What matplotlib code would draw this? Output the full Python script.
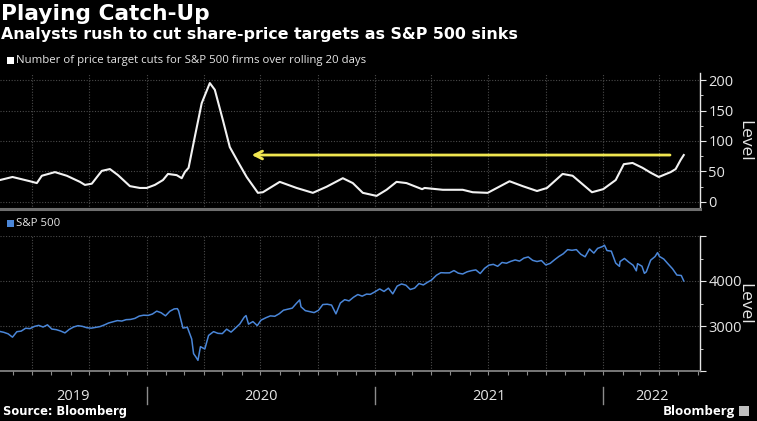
import matplotlib

matplotlib.use("Agg")

import matplotlib.pyplot as plt
import matplotlib.dates as mdates
import matplotlib.transforms as mtransforms
from matplotlib.patches import Rectangle
from matplotlib.ticker import MultipleLocator, FixedLocator
import pandas as pd

# Rolling 20-day count of price-target cuts
CUT_DATES = [
    "2019-05-11", "2019-05-31", "2019-06-28", "2019-07-09", "2019-07-17", "2019-08-07",
    "2019-08-26", "2019-09-16", "2019-09-24", "2019-10-05", "2019-10-21", "2019-11-03",
    "2019-11-16", "2019-12-05", "2019-12-21", "2020-01-01", "2020-01-14", "2020-01-27",
    "2020-02-04", "2020-02-18", "2020-02-26", "2020-03-02", "2020-03-08", "2020-03-18",
    "2020-03-29", "2020-04-11", "2020-04-19", "2020-05-02", "2020-05-13", "2020-05-26",
    "2020-06-09", "2020-06-27", "2020-07-05", "2020-08-01", "2020-08-28", "2020-09-23",
    "2020-10-15", "2020-11-10", "2020-11-26", "2020-12-12", "2021-01-03", "2021-01-19",
    "2021-02-04", "2021-02-20", "2021-03-17", "2021-03-21", "2021-04-19", "2021-05-21",
    "2021-06-06", "2021-06-30", "2021-08-04", "2021-08-25", "2021-09-17", "2021-10-03",
    "2021-10-28", "2021-11-13", "2021-12-14", "2022-01-01", "2022-01-21", "2022-02-03",
    "2022-02-17", "2022-03-05", "2022-03-18", "2022-03-31", "2022-04-19", "2022-04-27",
    "2022-05-05", "2022-05-10",
]
CUT_VALUES = [
    36, 41, 34, 31, 43, 49,
    43, 33, 28, 30, 51, 54,
    44, 26, 23, 23, 28, 36,
    46, 44, 39, 49, 56, 107,
    162, 195, 184, 134, 90, 66,
    41, 15, 16, 33, 23, 15,
    25, 39, 31, 15, 10, 20,
    33, 31, 21, 23, 20, 20,
    16, 15, 34, 26, 18, 23,
    46, 43, 16, 21, 36, 62,
    64, 56, 48, 41, 49, 54,
    69, 77,
]

# S&P 500 level, roughly weekly
SPX_DATES = [
    "2019-05-10", "2019-05-17", "2019-05-24", "2019-05-31", "2019-06-07", "2019-06-14",
    "2019-06-21", "2019-06-28", "2019-07-05", "2019-07-12", "2019-07-19", "2019-07-26",
    "2019-08-02", "2019-08-09", "2019-08-16", "2019-08-23", "2019-08-30", "2019-09-06",
    "2019-09-13", "2019-09-20", "2019-09-27", "2019-10-04", "2019-10-11", "2019-10-18",
    "2019-10-25", "2019-11-01", "2019-11-08", "2019-11-15", "2019-11-22", "2019-11-29",
    "2019-12-06", "2019-12-13", "2019-12-20", "2019-12-27",
    "2020-01-03", "2020-01-10", "2020-01-17", "2020-01-24", "2020-01-31", "2020-02-07",
    "2020-02-14", "2020-02-19", "2020-02-21", "2020-02-28", "2020-03-06", "2020-03-13",
    "2020-03-16", "2020-03-20", "2020-03-23", "2020-03-27", "2020-04-03", "2020-04-09",
    "2020-04-17", "2020-04-24", "2020-05-01", "2020-05-08", "2020-05-15", "2020-05-22",
    "2020-05-29", "2020-06-05", "2020-06-08", "2020-06-12", "2020-06-19", "2020-06-26",
    "2020-07-02", "2020-07-10", "2020-07-17", "2020-07-24", "2020-07-31", "2020-08-07",
    "2020-08-14", "2020-08-21", "2020-08-28", "2020-09-02", "2020-09-04", "2020-09-11",
    "2020-09-18", "2020-09-25", "2020-10-02", "2020-10-09", "2020-10-16", "2020-10-23",
    "2020-10-30", "2020-11-06", "2020-11-13", "2020-11-20", "2020-11-27", "2020-12-04",
    "2020-12-11", "2020-12-18", "2020-12-24", "2020-12-31",
    "2021-01-08", "2021-01-15", "2021-01-22", "2021-01-29", "2021-02-05", "2021-02-12",
    "2021-02-19", "2021-02-26", "2021-03-05", "2021-03-12", "2021-03-19", "2021-03-26",
    "2021-04-01", "2021-04-09", "2021-04-16", "2021-04-23", "2021-04-30", "2021-05-07",
    "2021-05-14", "2021-05-21", "2021-05-28", "2021-06-04", "2021-06-11", "2021-06-18",
    "2021-06-25", "2021-07-02", "2021-07-09", "2021-07-16", "2021-07-23", "2021-07-30",
    "2021-08-06", "2021-08-13", "2021-08-20", "2021-08-27", "2021-09-03", "2021-09-10",
    "2021-09-17", "2021-09-24", "2021-10-01", "2021-10-08", "2021-10-15", "2021-10-22",
    "2021-10-29", "2021-11-05", "2021-11-12", "2021-11-19", "2021-11-26", "2021-12-03",
    "2021-12-10", "2021-12-17", "2021-12-23", "2021-12-31",
    "2022-01-03", "2022-01-07", "2022-01-14", "2022-01-21", "2022-01-27", "2022-01-28",
    "2022-02-04", "2022-02-11", "2022-02-18", "2022-02-23", "2022-02-25", "2022-03-04",
    "2022-03-08", "2022-03-11", "2022-03-18", "2022-03-25", "2022-03-29", "2022-04-01",
    "2022-04-08", "2022-04-14", "2022-04-22", "2022-04-29", "2022-05-06", "2022-05-10",
]
SPX_VALUES = [
    2881, 2860, 2826, 2752, 2873, 2887,
    2950, 2942, 2990, 3014, 2977, 3026,
    2932, 2919, 2889, 2847, 2926, 2979,
    3007, 2992, 2962, 2952, 2970, 2986,
    3023, 3067, 3093, 3120, 3110, 3141,
    3146, 3169, 3221, 3240,
    3235, 3265, 3330, 3295, 3226, 3328,
    3380, 3386, 3338, 2954, 2972, 2711,
    2386, 2305, 2237, 2541, 2489, 2790,
    2875, 2837, 2831, 2930, 2864, 2955,
    3044, 3194, 3232, 3041, 3098, 3009,
    3130, 3185, 3225, 3216, 3271, 3351,
    3373, 3397, 3508, 3580, 3427, 3341,
    3319, 3298, 3348, 3477, 3484, 3465,
    3270, 3510, 3585, 3558, 3638, 3699,
    3663, 3709, 3703, 3756,
    3824, 3768, 3841, 3714, 3887, 3934,
    3907, 3811, 3842, 3943, 3913, 3975,
    4020, 4129, 4185, 4180, 4181, 4232,
    4174, 4156, 4204, 4230, 4247, 4166,
    4281, 4352, 4370, 4327, 4412, 4395,
    4437, 4468, 4442, 4509, 4535, 4459,
    4433, 4455, 4357, 4391, 4471, 4545,
    4605, 4697, 4682, 4698, 4595, 4538,
    4712, 4620, 4725, 4766,
    4796, 4677, 4663, 4398, 4326, 4432,
    4501, 4419, 4349, 4226, 4385, 4329,
    4170, 4204, 4463, 4543, 4631, 4546,
    4488, 4393, 4272, 4132, 4123, 4001,
]

YEARS = [2019, 2020, 2021, 2022]

W, H = 757, 421
BG = "black"
GRID = "#4a4a4a"
WHITE_LINE = "#f2f2f2"
BLUE = "#4a86d8"
YELLOW = "#f0e650"
AXIS_GRAY = "#8c8c8c"
TEXT = "#e6e6e6"
FONT = "Open Sans"

cut_dates = pd.to_datetime(CUT_DATES)
spx_dates = pd.to_datetime(SPX_DATES)
x_start = pd.Timestamp("2019-05-11")
x_end = pd.Timestamp("2022-06-05")


def px_box(left, top, right, bottom):
    return [left / W, 1 - bottom / H, (right - left) / W, (bottom - top) / H]


def style_axis(ax):
    ax.set_facecolor(BG)
    ax.set_xlim(x_start, x_end)
    for side in ["left", "top"]:
        ax.spines[side].set_visible(False)
    ax.spines["right"].set_color(TEXT)
    ax.spines["right"].set_linewidth(1.0)
    ax.yaxis.tick_right()
    ax.tick_params(axis="y", which="both", colors=TEXT, labelsize=10.5, direction="out", pad=2)
    ax.tick_params(axis="y", which="major", length=4)
    ax.tick_params(axis="y", which="minor", length=2.5)
    ax.xaxis.set_major_locator(mdates.MonthLocator(bymonth=[1, 4, 7, 10]))
    ax.xaxis.set_minor_locator(mdates.MonthLocator())
    ax.grid(True, which="major", color=GRID, linestyle=(0, (1, 1.5)), linewidth=0.8)
    # "Level" sits in a fixed spot right of the tick labels
    ax.text(744 / 700, 0.5, "Level", transform=ax.transAxes, rotation=-90, color=TEXT,
            fontsize=12.5, family=FONT, ha="center", va="center", clip_on=False)


fig = plt.figure(figsize=(W / 100, H / 100), dpi=100, facecolor=BG)

# top panel: price target cuts
ax1 = fig.add_axes(px_box(0, 73, 700, 209))
style_axis(ax1)
ax1.plot(cut_dates, CUT_VALUES, color=WHITE_LINE, linewidth=1.5, solid_joinstyle="round")
ax1.set_ylim(-11.5, 211.5)
ax1.yaxis.set_major_locator(FixedLocator([0, 50, 100, 150, 200]))
ax1.yaxis.set_minor_locator(FixedLocator([25, 75, 125, 175]))
ax1.spines["bottom"].set_color("#6e6e6e")
ax1.spines["bottom"].set_linewidth(2.2)
ax1.tick_params(axis="x", which="both", length=0, labelbottom=False)
for lab in ax1.get_yticklabels():
    lab.set_fontfamily(FONT)
ax1.annotate(
    "",
    xy=(pd.Timestamp("2020-06-17"), 77),
    xytext=(pd.Timestamp("2022-04-18"), 77),
    arrowprops=dict(arrowstyle="->", color=YELLOW, lw=2.0, mutation_scale=14, shrinkA=0, shrinkB=0),
)

# bottom panel: S&P 500
ax2 = fig.add_axes(px_box(0, 236, 700, 371))
style_axis(ax2)
ax2.plot(spx_dates, SPX_VALUES, color=BLUE, linewidth=1.1)
ax2.set_ylim(2000, 5000)
ax2.yaxis.set_major_locator(FixedLocator([2000, 3000, 4000, 5000]))
ax2.yaxis.set_minor_locator(MultipleLocator(500))
ax2.set_yticklabels(["", "3000", "4000", ""])
for lab in ax2.get_yticklabels():
    lab.set_fontfamily(FONT)
ax2.spines["bottom"].set_color(AXIS_GRAY)
ax2.spines["bottom"].set_linewidth(1.2)
ax2.tick_params(axis="x", which="both", colors=AXIS_GRAY, length=3, width=0.8, labelbottom=False)

# year labels and separators below the bottom panel
trans = mtransforms.blended_transform_factory(ax2.transData, ax2.transAxes)
bounds = [x_start] + [pd.Timestamp(f"{y + 1}-01-01") for y in YEARS[:-1]] + [x_end]
for i, year in enumerate(YEARS):
    mid = bounds[i] + (bounds[i + 1] - bounds[i]) / 2
    ax2.text(mid, -0.19, str(year), transform=trans, ha="center", va="center",
             color=TEXT, fontsize=10.5, family=FONT, clip_on=False)
for b in bounds[1:-1]:
    ax2.plot([b, b], [-0.12, -0.245], transform=trans, color=AXIS_GRAY, lw=1.0, clip_on=False)

# titles and legends
fig.text(1 / W, 1 - 14 / H, "Playing Catch-Up", color="white", fontsize=15.6,
         fontweight="bold", family="DejaVu Sans", ha="left", va="center")
fig.text(1 / W, 1 - 35 / H, "Analysts rush to cut share-price targets as S&P 500 sinks",
         color="white", fontsize=11.4, fontweight="bold", family="DejaVu Sans", ha="left", va="center")

fig.patches.append(Rectangle((7 / W, 1 - 64 / H), 7 / W, 7 / H, transform=fig.transFigure,
                             facecolor="white", edgecolor="none"))
fig.text(16 / W, 1 - 60.5 / H, "Number of price target cuts for S&P 500 firms over rolling 20 days",
         color=TEXT, fontsize=8.2, family=FONT, ha="left", va="center")
fig.patches.append(Rectangle((7 / W, 1 - 227 / H), 7 / W, 7 / H, transform=fig.transFigure,
                             facecolor=BLUE, edgecolor="none"))
fig.text(16 / W, 1 - 223.5 / H, "S&P 500", color=TEXT, fontsize=8.2, family=FONT,
         ha="left", va="center")

fig.text(3 / W, 1 - 412 / H, "Source: Bloomberg", color="white", fontsize=8.3,
         fontweight="bold", family="DejaVu Sans", ha="left", va="center")
fig.text(735 / W, 1 - 411 / H, "Bloomberg", color="white", fontsize=9.5,
         fontweight="bold", family=FONT, ha="right", va="center")
fig.patches.append(Rectangle((739 / W, 1 - 416 / H), 10 / W, 10 / H, transform=fig.transFigure,
                             facecolor="#bfbfbf", edgecolor="none"))

fig.savefig("out.png", dpi=100, facecolor=BG)
